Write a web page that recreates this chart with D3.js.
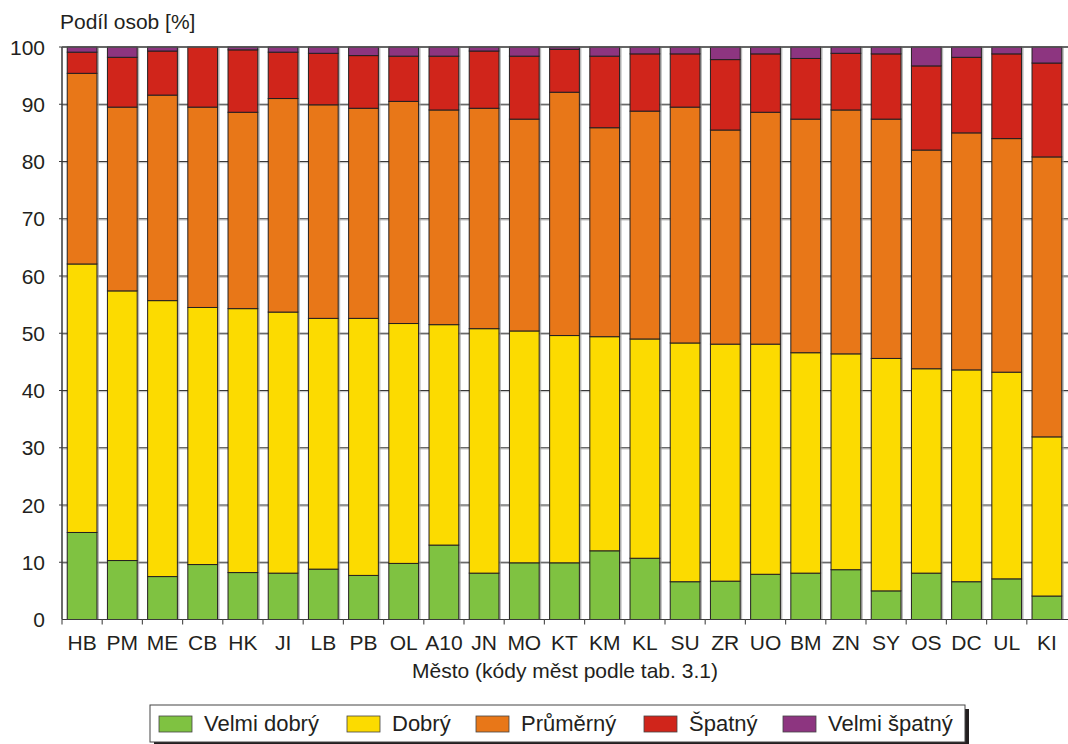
<!DOCTYPE html>
<html>
<head>
<meta charset="utf-8">
<script src="https://cdn.jsdelivr.net/npm/d3@7"></script>
<style>
  html, body { margin: 0; padding: 0; background: #fff; }
  svg { display: block; }
  text { font-family: "Liberation Sans", Arial, sans-serif; fill: #231f20; }
</style>
</head>
<body>
<svg id="chart" width="1068" height="744"></svg>
<script>
const categories = ["HB","PM","ME","CB","HK","JI","LB","PB","OL","A10","JN","MO","KT","KM","KL","SU","ZR","UO","BM","ZN","SY","OS","DC","UL","KI"];
const seriesNames = ["Velmi dobrý","Dobrý","Průměrný","Špatný","Velmi špatný"];
const seriesColors = ["#7fc241","#fcdb00","#e87718","#d0251b","#8d3580"];
const velmiDobry  = [15.2,10.3,7.5,9.6,8.2,8.1,8.8,7.7,9.8,13.0,8.1,9.9,9.9,12.0,10.7,6.6,6.7,7.9,8.1,8.7,5.0,8.1,6.6,7.1,4.1];
const dobry       = [46.9,47.1,48.2,44.9,46.1,45.6,43.8,44.9,41.9,38.5,42.7,40.5,39.7,37.4,38.3,41.7,41.4,40.2,38.5,37.7,40.6,35.7,37.0,36.1,27.8];
const prumerny    = [33.3,32.1,35.9,35.0,34.3,37.3,37.3,36.7,38.8,37.5,38.5,37.0,42.5,36.5,39.8,41.2,37.4,40.5,40.8,42.6,41.8,38.2,41.4,40.8,48.9];
const spatny      = [3.7,8.7,7.7,10.5,10.9,8.1,9.0,9.2,7.9,9.4,10.0,11.0,7.5,12.5,10.0,9.3,12.3,10.2,10.6,9.9,11.4,14.7,13.2,14.8,16.4];
const velmiSpatny = [0.9,1.8,0.7,0.0,0.5,0.9,1.1,1.5,1.6,1.6,0.7,1.6,0.4,1.6,1.2,1.2,2.2,1.2,2.0,1.1,1.2,3.3,1.8,1.2,2.8];
const yTicks = [0,10,20,30,40,50,60,70,80,90,100];
const yTitle = "Podíl osob [%]";
const xTitle = "Město (kódy měst podle tab. 3.1)";

const seriesValues = [velmiDobry, dobry, prumerny, spatny, velmiSpatny];
const table = categories.map((c, i) => {
  const row = { cat: c };
  seriesNames.forEach((s, k) => row[s] = seriesValues[k][i]);
  return row;
});
const stacked = d3.stack().keys(seriesNames)(table);

const svg = d3.select("#chart");
const pL = 62, pR = 1067, pT = 47, pB = 619.5;

const x = d3.scaleBand().domain(categories).range([pL, pR]).paddingInner(0.26).paddingOuter(0.13);
const y = d3.scaleLinear().domain([0, 100]).range([pB, pT]);

// gridlines
svg.append("g").selectAll("line").data(yTicks.filter(t => t > 0 && t < 100)).join("line")
  .attr("x1", pL).attr("x2", 1068)
  .attr("y1", d => y(d) + 1.2).attr("y2", d => y(d) + 1.2)
  .attr("stroke", "#bbb").attr("stroke-width", 1);
svg.append("g").selectAll("line").data(yTicks.filter(t => t > 0)).join("line")
  .attr("x1", pL - 3).attr("x2", 1068)
  .attr("y1", d => y(d)).attr("y2", d => y(d))
  .attr("stroke", "#3a3a3a").attr("stroke-width", 1.1);

// bar shadows
svg.append("g").selectAll("rect").data(categories).join("rect")
  .attr("x", d => x(d) + x.bandwidth())
  .attr("y", y(100) + 1)
  .attr("width", 2)
  .attr("height", y(0) - y(100) - 1)
  .attr("fill", "#9a9a9a").attr("opacity", 0.7);

// bars
const layers = svg.append("g").selectAll("g").data(stacked).join("g")
  .attr("fill", (d, i) => seriesColors[i]);
layers.selectAll("rect").data(d => d.filter(p => p[1] - p[0] > 0)).join("rect")
  .attr("x", d => x(d.data.cat))
  .attr("y", d => y(d[1]))
  .attr("width", x.bandwidth())
  .attr("height", d => y(d[0]) - y(d[1]))
  .attr("stroke", "#231f20").attr("stroke-width", 1);

// axes
svg.append("line").attr("x1", pL).attr("x2", pL).attr("y1", y(100)).attr("y2", y(0))
  .attr("stroke", "#3a3a3a").attr("stroke-width", 1.5);
svg.append("line").attr("x1", pL).attr("x2", 1068).attr("y1", y(0)).attr("y2", y(0))
  .attr("stroke", "#3a3a3a").attr("stroke-width", 1.2);
svg.append("line").attr("x1", pL).attr("x2", 1068).attr("y1", y(100)).attr("y2", y(100))
  .attr("stroke", "#555").attr("stroke-width", 1.5);

// x ticks between bands
const step = x.step();
const xTickPos = categories.map((c, i) => pL + i * step + (x(categories[0]) - pL) - x.paddingInner() * step / 2 + (i === 0 ? -((x(categories[0]) - pL) - x.paddingInner() * step / 2) : 0));
svg.append("g").selectAll("line").data(xTickPos).join("line")
  .attr("x1", d => d).attr("x2", d => d)
  .attr("y1", y(0)).attr("y2", y(0) + 5)
  .attr("stroke", "#555").attr("stroke-width", 1.2);

// y labels
svg.append("g").selectAll("text").data(yTicks).join("text")
  .attr("x", 45).attr("y", d => y(d))
  .attr("dy", "0.36em")
  .attr("text-anchor", "end")
  .attr("font-size", 21)
  .text(d => d);
svg.append("text").attr("x", 60).attr("y", 29).attr("font-size", 21).text(yTitle);

// x labels
svg.append("g").selectAll("text").data(categories).join("text")
  .attr("x", d => x(d) + x.bandwidth() / 2)
  .attr("y", 650)
  .attr("text-anchor", "middle")
  .attr("font-size", 21)
  .text(d => d);
svg.append("text").attr("x", 565).attr("y", 678).attr("text-anchor", "middle")
  .attr("font-size", 21).text(xTitle);

// legend
const lg = svg.append("g");
lg.append("rect").attr("x", 154).attr("y", 709).attr("width", 815).attr("height", 37).attr("fill", "#231f20");
lg.append("rect").attr("x", 150).attr("y", 705).attr("width", 815).attr("height", 37)
  .attr("fill", "#fff").attr("stroke", "#444").attr("stroke-width", 1);
const legendSwatchX = [159, 347, 476, 644, 783];
const items = lg.selectAll("g.item").data(seriesNames).join("g").attr("class", "item");
items.append("rect")
  .attr("x", (d, i) => legendSwatchX[i]).attr("y", 716)
  .attr("width", 33).attr("height", 16)
  .attr("fill", (d, i) => seriesColors[i])
  .attr("stroke", "#444").attr("stroke-width", 0.8);
items.append("text")
  .attr("x", (d, i) => legendSwatchX[i] + 45).attr("y", 731)
  .attr("font-size", 22)
  .text(d => d);
</script>
</body>
</html>
